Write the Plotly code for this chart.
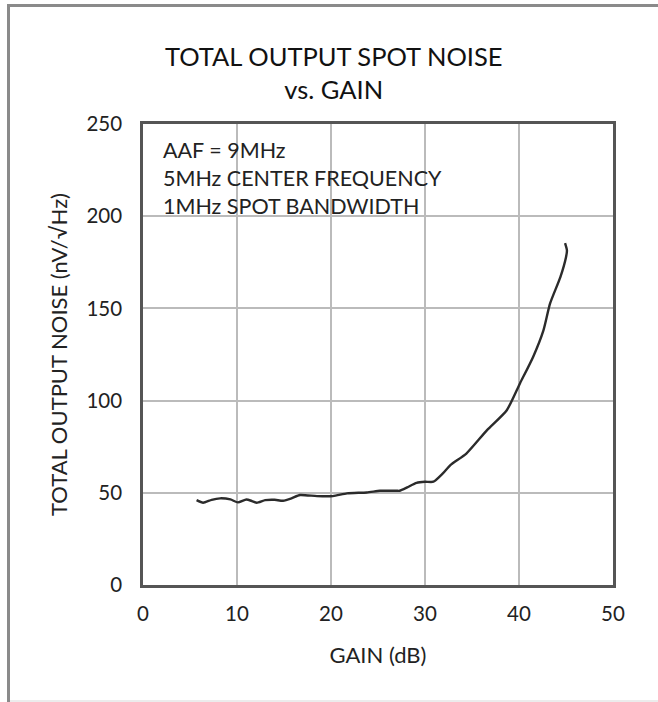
import plotly.graph_objects as go

gain_db = [5.7, 6.4, 7.3, 8.2, 9.3, 10.1, 11.0, 11.6, 12.1, 13.0, 14.0, 14.9, 15.8, 16.7,
           18.5, 20.2, 21.7, 23.8, 25.2, 25.9, 27.0, 27.3, 28.1, 29.1, 30.0, 30.9, 31.9,
           32.7, 34.4, 36.6, 38.7, 40.1, 41.5, 42.6, 43.3, 44.4, 45.0, 45.1, 44.9]
noise_nv = [46.0, 44.6, 46.2, 47.0, 46.4, 44.8, 46.4, 45.5, 44.6, 46.0, 46.2, 45.7, 47.0, 48.8,
            48.2, 48.2, 49.7, 50.2, 51.1, 51.1, 51.1, 51.1, 52.9, 55.4, 56.0, 56.0, 60.5,
            65.0, 71.3, 84.0, 94.8, 109.3, 123.7, 138.1, 152.6, 167.0, 177.8, 181.5, 185.4]

x_ticks = [0, 10, 20, 30, 40, 50]
y_ticks = [0, 50, 100, 150, 200, 250]

title_lines = ["TOTAL OUTPUT SPOT NOISE", "vs. GAIN"]
note_lines = ["AAF = 9MHz", "5MHz CENTER FREQUENCY", "1MHz SPOT BANDWIDTH"]
x_title = "GAIN (dB)"
y_title = "TOTAL OUTPUT NOISE (nV/√Hz)"

FONT = "Lato"
W, H = 658, 702
ML, MR, MT, MB = 143, 45, 124, 117
PW, PH = W - ML - MR, H - MT - MB


def px(x):
    return (x - ML) / PW


def py(y):
    return (H - MB - y) / PH


fig = go.Figure()
fig.add_trace(go.Scatter(
    x=gain_db, y=noise_nv, mode="lines",
    line=dict(color="#2b2b2b", width=2.4, shape="spline", smoothing=0.6),
    hoverinfo="skip", showlegend=False,
))

axis_common = dict(
    showgrid=True, gridcolor="#bbbbbb", gridwidth=1.6,
    showline=True, linecolor="#555555", linewidth=2.5, mirror=True,
    zeroline=False, ticks="", tickfont=dict(family=FONT, size=20.5, color="#222222"),
)

fig.update_xaxes(range=[0, 50], tickvals=x_ticks, ticklabelstandoff=9,
                 title=dict(text=x_title, font=dict(family=FONT, size=22, color="#222222"), standoff=24),
                 **axis_common)
fig.update_yaxes(range=[0, 250], tickvals=y_ticks, ticklabelstandoff=14,
                 title=dict(text=y_title, font=dict(family=FONT, size=22, color="#222222"), standoff=13),
                 **axis_common)

# white box behind the note text (covers the gridlines)
fig.add_shape(type="rect", xref="paper", yref="paper", layer="between",
              x0=px(158), x1=px(431), y0=py(220), y1=py(132),
              fillcolor="white", line=dict(width=0))

fig.add_annotation(
    xref="paper", yref="paper", x=px(333.5), y=py(39),
    xanchor="center", yanchor="top",
    text="<br>".join(title_lines), showarrow=False, align="center",
    font=dict(family=FONT, size=25.5, color="#111111"),
)

fig.add_annotation(
    xref="paper", yref="paper", x=px(161), y=py(135),
    xanchor="left", yanchor="top",
    text="<br>".join(note_lines), showarrow=False, align="left",
    font=dict(family=FONT, size=21.5, color="#222222"),
)

# outer frame: gray top and left border (filled strips), faint bottom
fig.add_shape(type="rect", xref="paper", yref="paper", layer="above",
              x0=px(7), x1=px(W), y0=py(7), y1=py(4),
              fillcolor="#8a8a8a", line=dict(width=0))
fig.add_shape(type="rect", xref="paper", yref="paper", layer="above",
              x0=px(7), x1=px(10), y0=py(H), y1=py(4),
              fillcolor="#8a8a8a", line=dict(width=0))
fig.add_shape(type="line", xref="paper", yref="paper", x0=px(10), x1=px(W),
              y0=py(701), y1=py(701), line=dict(color="#e6e6e6", width=1.5))

fig.update_layout(
    width=W, height=H,
    margin=dict(l=ML, r=MR, t=MT, b=MB),
    paper_bgcolor="white", plot_bgcolor="white",
    font=dict(family=FONT),
)

fig.write_html("out.html", config={"displayModeBar": False},
               post_script="document.body.style.margin='0';")
